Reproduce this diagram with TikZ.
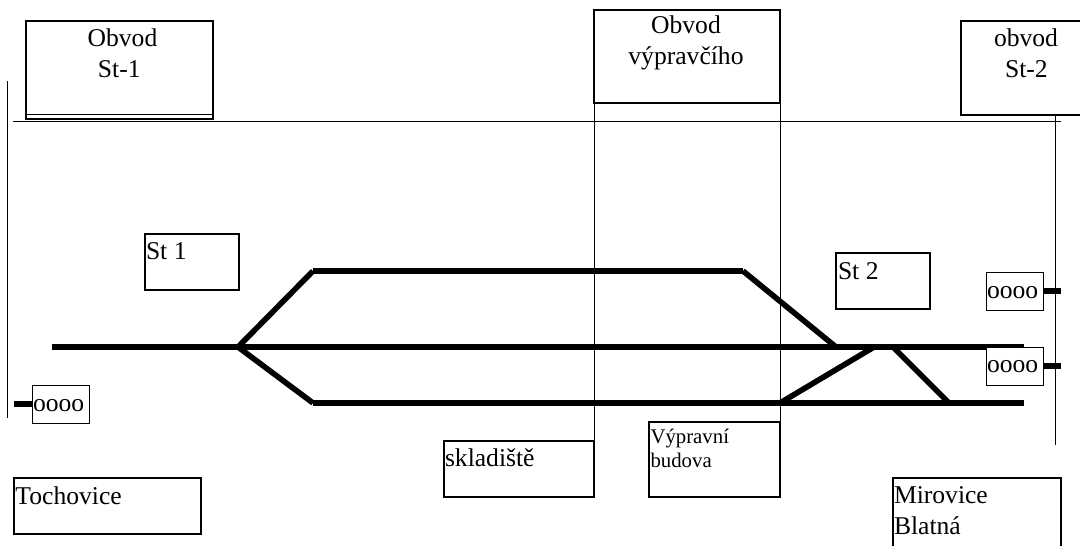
\documentclass[tikz,border=0pt]{standalone}
\usepackage{fontspec}
\setmainfont{Liberation Serif}
\tikzset{
  x=1pt,y=-1pt,
  boxed/.style={draw=black,line width=1.3pt,anchor=north west,inner sep=0pt,outer sep=0pt},
  small box/.style={boxed,line width=1pt,fill=white,minimum width=57pt,minimum height=38pt},
  thin line/.style={draw=black,line width=1pt},
  track/.style={draw=black,line width=5.6pt},
  lbl/.style={inner sep=0pt,outer sep=0pt,font=\fontsize{25.6}{30}\selectfont},
  lblc/.style={lbl,align=center,anchor=base},
  lbll/.style={lbl,align=left,anchor=base west},
}
\begin{document}
\begin{tikzpicture}
\useasboundingbox (0,0) rectangle (1080,546);
\clip (0,0) rectangle (1080,546);
\fill[white] (0,0) rectangle (1080,546);
% circuit boxes
\node[boxed,minimum width=187pt,minimum height=98pt] (ob1) at (26,21) {};
\draw[line width=1.3pt] (ob1.west |- 0,114.5) -- (ob1.east |- 0,114.5);
\node[boxed,minimum width=186pt,minimum height=93pt] (obv) at (594,10) {};
\node[boxed,minimum width=140pt,minimum height=94pt] (ob2) at (961,21) {};
% small boxes
\node[boxed,minimum width=94pt,minimum height=56pt] (st1) at (145,234) {};
\node[boxed,minimum width=94pt,minimum height=56pt] (st2) at (836,253) {};
\node[small box] (o1) at (986,272) {};
\node[small box] (o3) at (32,385) {};
\node[boxed,minimum width=187pt,minimum height=56pt] (toch) at (14,478) {};
\node[boxed,minimum width=150pt,minimum height=56pt] (skl) at (444,441) {};
\node[boxed,minimum width=131pt,minimum height=75pt] (bud) at (649,422) {};
\node[boxed,minimum width=168pt,minimum height=100pt] (mir) at (893,478) {};
% thin lines
\coordinate (hl) at (13,121.8);
\coordinate (hr) at (1061,121.8);
\coordinate (vl1) at (7.5,81);
\coordinate (vl2) at (7.5,418);
\coordinate (vr1) at (1055,115);
\coordinate (vr2) at (1055,445);
\draw[thin line] (hl) -- (hr);
\draw[thin line] (vl1) -- (vl2);
\draw[thin line] (vr1) -- (vr2);
\draw[thin line] (obv.south west) -- (skl.north east);
\draw[thin line] (obv.south east) -- (bud.north east);
% tracks
\coordinate (a) at (52,347);
\coordinate (b) at (1024,347);
\coordinate (c) at (313,403);
\coordinate (d) at (1024,403);
\coordinate (e) at (313,271);
\coordinate (f) at (743,271);
\coordinate (g) at (238,347);
\coordinate (h) at (836,347);
\coordinate (i) at (780,403);
\coordinate (j) at (874,347);
\coordinate (k) at (893,347);
\coordinate (l) at (949,403);
\draw[track] (a) -- (b);
\draw[track] (c) -- (d);
\draw[track] (e) -- (f);
\draw[track] (g) -- (e);
\draw[track] (g) -- (c);
\draw[track] (f) -- (h);
\draw[track] (i) -- (j);
\draw[track] (k) -- (l);
% box overlapping the track
\node[small box] (o2) at (986,347) {};
% ticks
\coordinate (t1) at (1061,291);
\coordinate (t2) at (1061,366);
\coordinate (t3) at (14,404);
\draw[track] (o1.east) -- (t1);
\draw[track] (o2.east) -- (t2);
\draw[track] (o3.west) -- (t3);
% labels
\node[lblc] (t-ob1a) at (122.5,46.7) {Obvod};
\node[lblc] (t-ob1b) at (119.3,77) {St-1};
\node[lblc] (t-obva) at (686,33) {Obvod};
\node[lblc] (t-obvb) at (686,64) {výpravčího};
\node[lblc] (t-ob2a) at (1026,46.7) {obvod};
\node[lblc] (t-ob2b) at (1026.4,77) {St-2};
\node[lbll] (t-st1) at (146,259) {St 1};
\node[lbll] (t-st2) at (838,279) {St 2};
\node[lbll] (t-o1) at (987,298.5) {oooo};
\node[lbll] (t-o2) at (987,372.5) {oooo};
\node[lbll] (t-o3) at (33,411) {oooo};
\node[lbll] (t-toch) at (15.5,504) {Tochovice};
\node[lbll] (t-skl) at (445,466) {skladiště};
\node[lbll,font=\fontsize{20.8}{25}\selectfont] (t-bud1) at (650.5,443) {Výpravní};
\node[lbll,font=\fontsize{20.8}{25}\selectfont] (t-bud2) at (650.5,467) {budova};
\node[lbll] (t-mir1) at (894,503) {Mirovice};
\node[lbll] (t-mir2) at (894,534) {Blatná};
\end{tikzpicture}
\end{document}
